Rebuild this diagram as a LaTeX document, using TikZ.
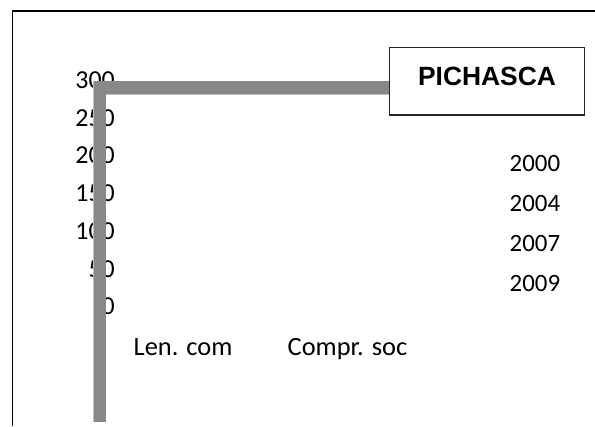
\documentclass[tikz,border=0pt]{standalone}
\usepackage{fontspec}
\setmainfont{Carlito}
\newfontfamily\boxfont{Liberation Sans}
\definecolor{bargray}{RGB}{136,136,136}
\definecolor{baredge}{RGB}{190,190,190}
\tikzset{
  axlabel/.style={anchor=base east, inner sep=0pt, font=\fontsize{26}{30}\selectfont},
  yearlabel/.style={anchor=base west, inner sep=0pt, font=\fontsize{25}{30}\selectfont},
  catlabel/.style={anchor=base west, inner sep=0pt, font=\fontsize{26.5}{30}\selectfont},
  frameline/.style={line width=1.4bp, black},
  barline/.style={line width=12.5bp, bargray, miter limit=10},
  titlebox/.style={draw=black!85, line width=1.1bp, fill=white, minimum width=194.7bp, minimum height=67.3bp, inner sep=0pt}
}
\begin{document}
\begin{tikzpicture}[x=1bp,y=-1bp]
\useasboundingbox (0,0) rectangle (595,426);
% frame
\coordinate (f1) at (12.7,426);
\coordinate (f2) at (12.7,11);
\coordinate (f3) at (595,11);
\draw[frameline] (f1) -- (f2) -- (f3);
% axis labels
\node[axlabel] (l300) at (115,88) {300};
\node[axlabel] (l250) at (115,126) {250};
\node[axlabel] (l200) at (115,163.5) {200};
\node[axlabel] (l150) at (115,201) {150};
\node[axlabel] (l100) at (115,239) {100};
\node[axlabel] (l50) at (115,277.5) {50};
\node[axlabel] (l0) at (115,314) {0};
% years
\node[yearlabel] (y2000) at (509.5,171) {2000};
\node[yearlabel] (y2004) at (509.5,211) {2004};
\node[yearlabel] (y2007) at (509.5,251.5) {2007};
\node[yearlabel] (y2009) at (509.5,291.5) {2009};
% categories
\node[catlabel] (c1) at (133.5,355) {Len. com};
\node[catlabel] (c2) at (287.5,355) {Compr. soc};
% gray bar
\coordinate (b1) at (99.5,422);
\coordinate (b2) at (99.5,88);
\coordinate (b3) at (585,88);
\draw[line width=13.5bp, baredge, miter limit=10] (b1) -- (b2) -- (b3);
\draw[barline] ([xshift=0.5bp]b1) -- ([xshift=0.5bp,yshift=0.5bp]b2) -- ([yshift=0.5bp]b3);
% title box
\node[titlebox] (title) at (486.7,81.35) {};
\node[anchor=base, inner sep=0pt, font=\boxfont\bfseries\fontsize{26.5}{30}\selectfont] (tt) at (487,85.7) {PICHASCA};
\end{tikzpicture}
\end{document}
